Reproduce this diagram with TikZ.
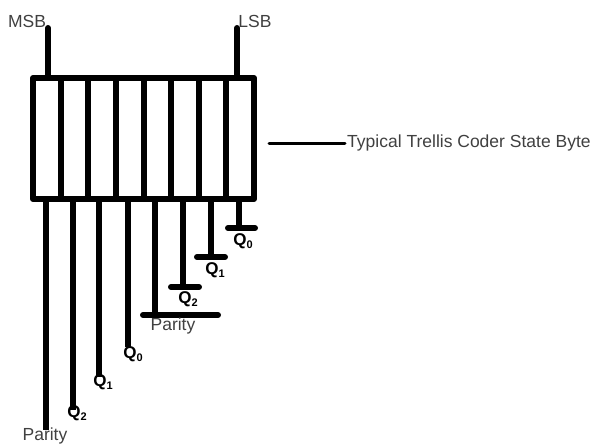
\documentclass[tikz,border=0pt]{standalone}
\usepackage{fontspec}
\setmainfont{Liberation Sans}
\definecolor{labelgray}{HTML}{404040}
\newcommand{\qsub}[1]{\textbf{Q}\raisebox{-3.5pt}{\fontsize{11}{11}\selectfont\bfseries #1}}

\begin{document}
\begin{tikzpicture}[x=1pt,y=-1pt,
  wire/.style={line width=6pt,line cap=round},
  lead/.style={line width=6.5pt},
  lbl/.style={text=labelgray,font=\fontsize{17.5}{19}\selectfont,inner sep=0pt},
  qlbl/.style={font=\fontsize{17}{19}\selectfont,inner sep=0pt}]

\useasboundingbox (0,0) rectangle (595,444);

% State byte
\draw[line width=6pt,line join=round] (33,78) rectangle (254,199);
\foreach \k in {1,...,7} {
\draw[line width=6pt] ({33+27.625*\k},78) -- ({33+27.625*\k},199);
}

% MSB / LSB stubs
\draw[wire] (48,78) -- (48,28);
\draw[wire] (237,78) -- (237,28);
\node[lbl,anchor=base] (msb) at (27,28) {MSB};
\node[lbl,anchor=base] (lsb) at (255,28) {LSB};

% Pointer and caption
\draw[line width=3pt,line cap=round] (269,143) -- (345,143);
\node[lbl,anchor=base west] (caption) at (347,147) {Typical Trellis Coder State Byte};

% Upper bits, long leads
\foreach \x/\yend in {46/430,73/410,99/377,128/347} {
\draw[lead] (\x,199) -- (\x,\yend);
}
\node[lbl] (parA) at (45,436) {Parity};
\node[qlbl] (qA2) at (77,413) {\qsub{2}};
\node[qlbl] (qA1) at (103,382) {\qsub{1}};
\node[qlbl] (qA0) at (133,354) {\qsub{0}};

% Lower bits, short leads with bars
\foreach \x/\yend/\xa/\xb in {155/315/143/218,183/287/171/199,211/257/197/225,239/228/228/255} {
\draw[lead] (\x,199) -- (\x,\yend);
\draw[wire] (\xa,\yend) -- (\xb,\yend);
}
\node[lbl] (parB) at (173,326) {Parity};
\node[qlbl] (qB2) at (188,299) {\qsub{2}};
\node[qlbl] (qB1) at (215,270) {\qsub{1}};
\node[qlbl] (qB0) at (243,241) {\qsub{0}};

\end{tikzpicture}
\end{document}
